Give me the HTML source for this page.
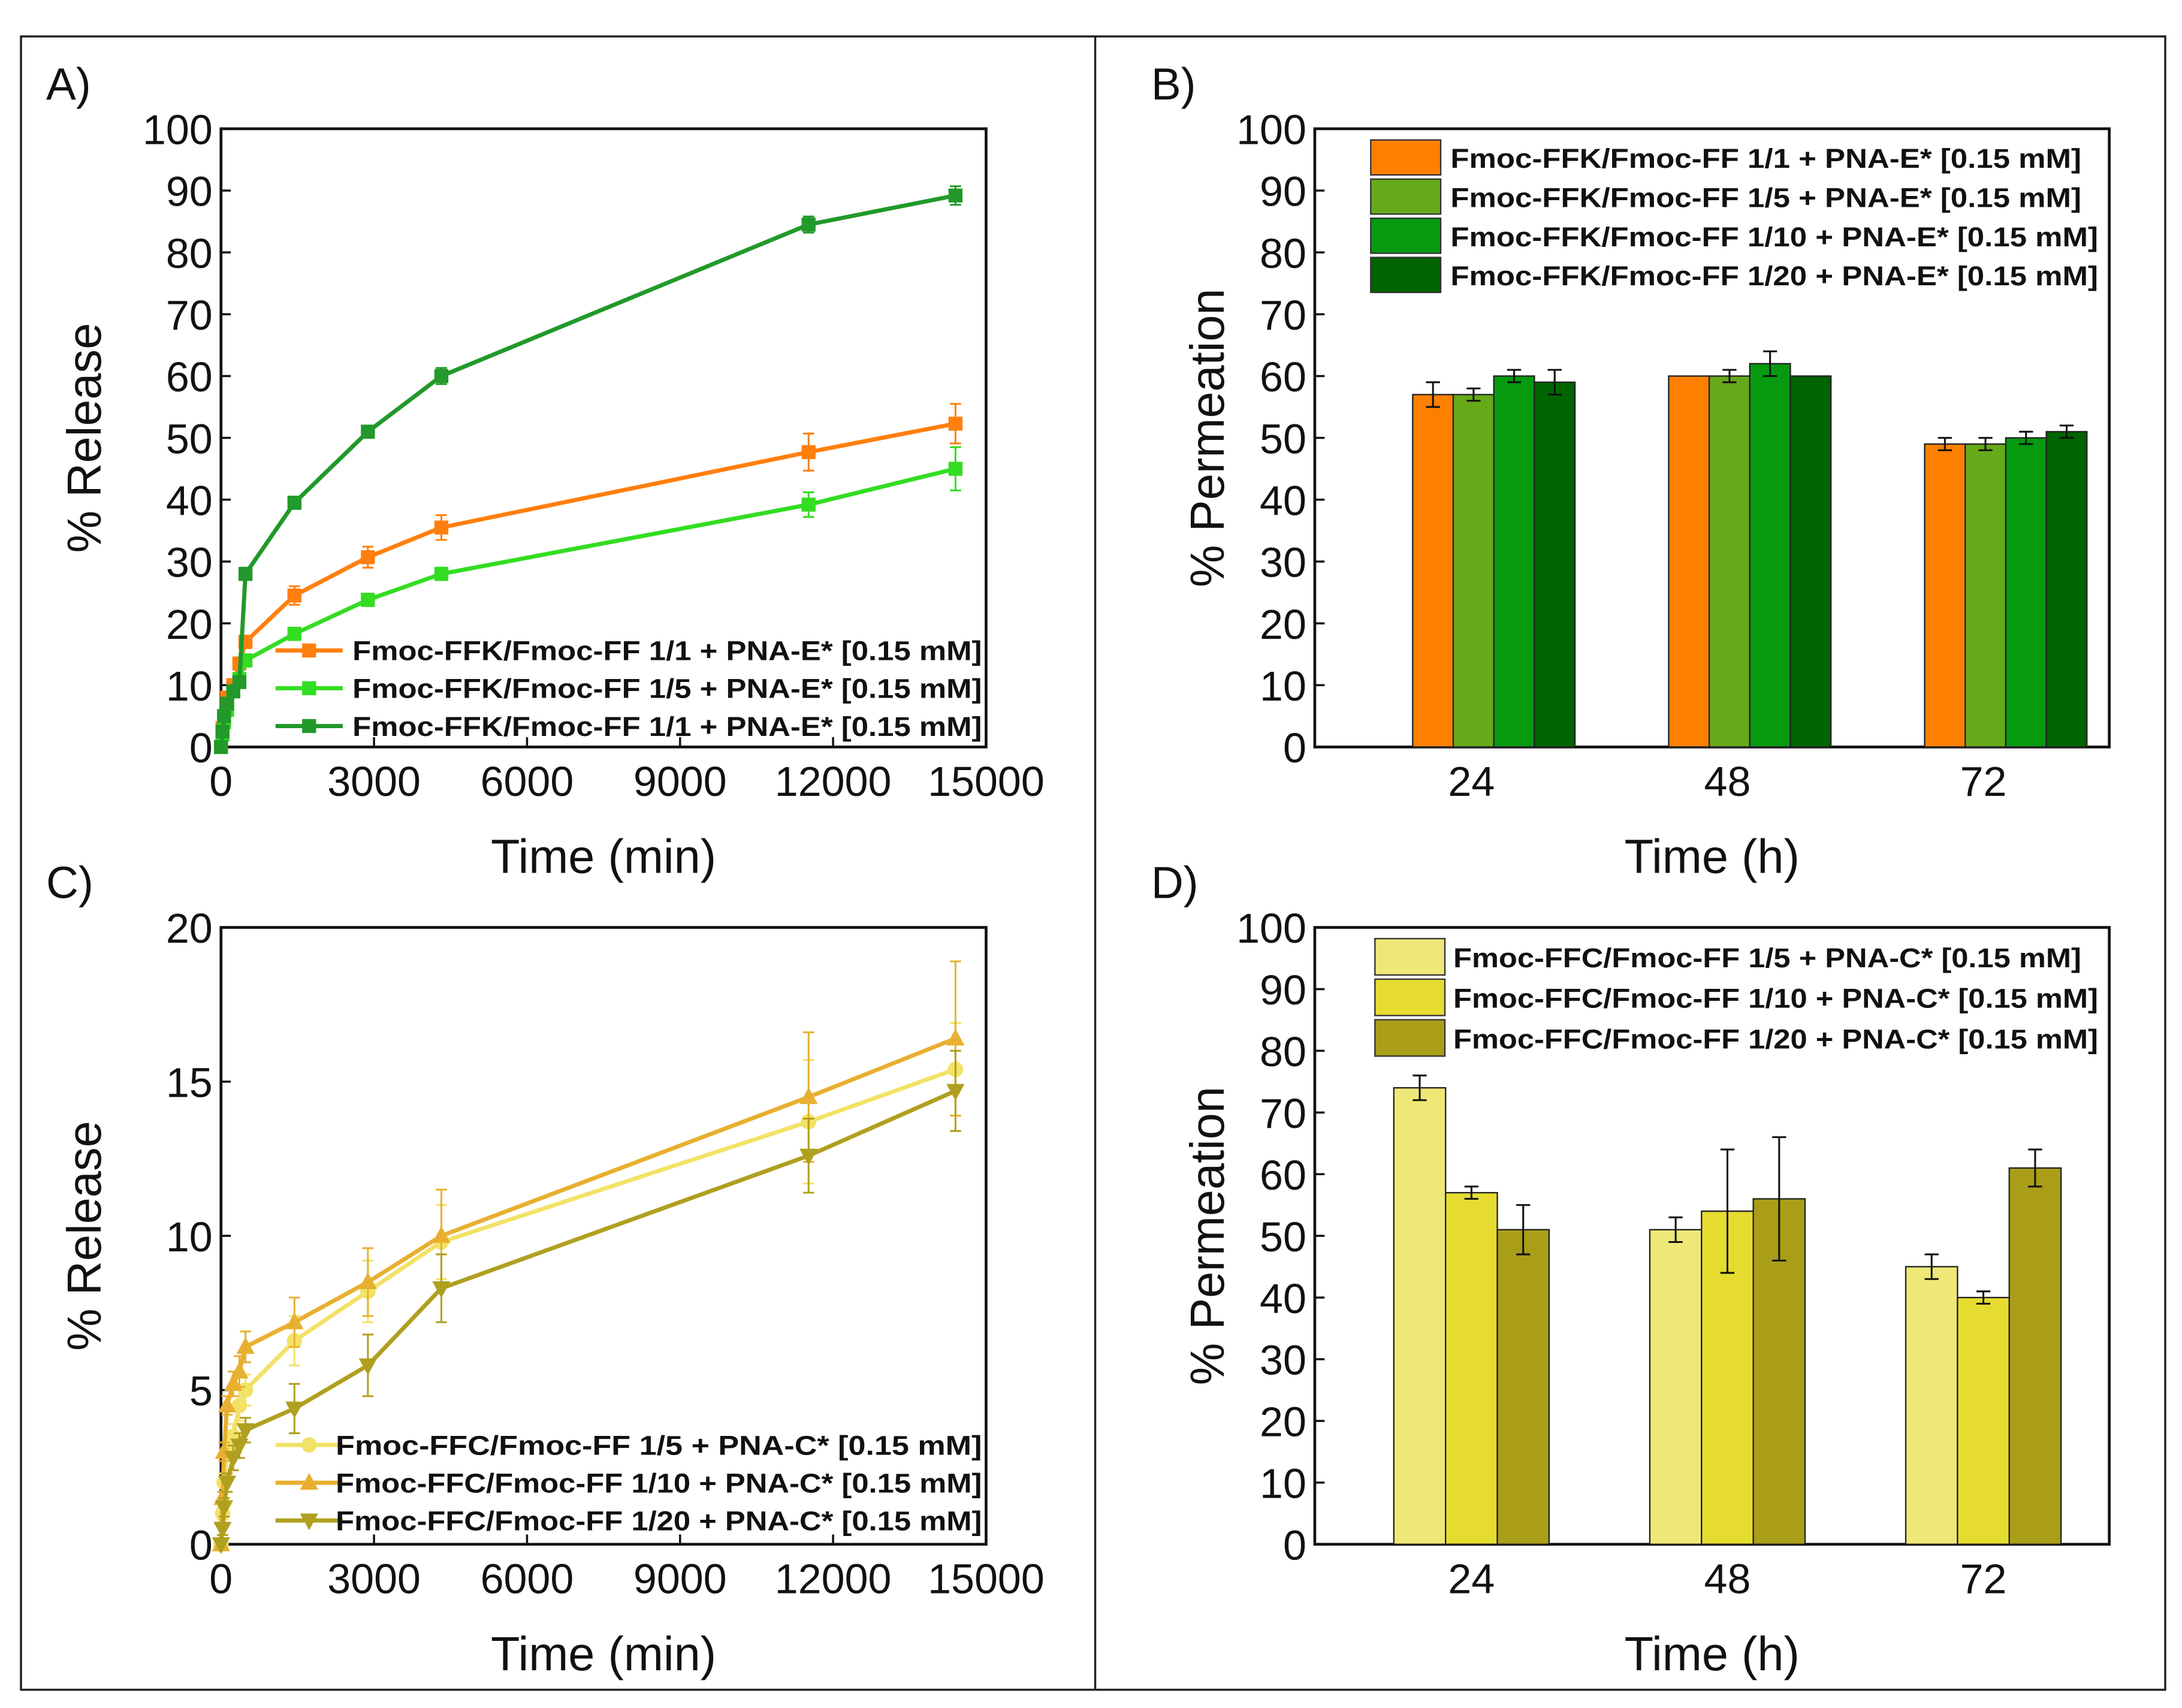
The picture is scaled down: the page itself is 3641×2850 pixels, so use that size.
<!DOCTYPE html>
<html><head><meta charset="utf-8"><style>
html,body{margin:0;padding:0;background:#fff;}
svg{display:block;}
text{font-family:"Liberation Sans",Arial,sans-serif;fill:#111;}
.tk{font-size:30px;}
.ttl{font-size:34px;}
.lg{font-size:19.5px;font-weight:bold;}
.pl{font-size:32px;}
</style></head><body>
<svg id="fig" width="3641" height="2850" viewBox="0 0 1560 1221" xmlns="http://www.w3.org/2000/svg">
<rect x="15" y="26" width="1533" height="1182" fill="none" stroke="#222" stroke-width="1.5"/>
<line x1="783" y1="26" x2="783" y2="1208" stroke="#222" stroke-width="1.5"/>
<text class="pl" x="33" y="71">A)</text>
<text class="pl" x="823" y="71">B)</text>
<text class="pl" x="33" y="642">C)</text>
<text class="pl" x="823" y="642">D)</text>
<g id="g"></g>
</svg>
<script>
// ---- Panel A data ----
const timesA = [0,30,60,120,240,360,480,1440,2880,4320,11520,14400];
const relA_11 = [0,3,5,8,10,13.5,17,24.5,30.7,35.5,47.7,52.3];
const relA_11err = [0,0.5,0.5,0.5,0.5,1,1,1.5,1.7,2,3,3.2];
const relA_15 = [0,2,4,6,9,11,14,18.3,23.8,28,39.2,45];
const relA_15err = [0,0.5,0.5,0.5,0.5,0.8,1,1,1,1,2,3.5];
const relA_11b = [0,2.5,5,7,9,10.5,28,39.5,51,60,84.5,89.2];
const relA_11berr = [0,0.5,0.5,0.5,0.5,0.8,1,1,1,1.3,1.3,1.5];
const labelsA = ["Fmoc-FFK/Fmoc-FF 1/1 + PNA-E* [0.15 mM]","Fmoc-FFK/Fmoc-FF 1/5 + PNA-E* [0.15 mM]","Fmoc-FFK/Fmoc-FF 1/1 + PNA-E* [0.15 mM]"];
// ---- Panel C data ----
const timesC = [0,30,60,120,240,360,480,1440,2880,4320,11520,14400];
const relC_5 = [0,1,2,3,3.5,4.5,5,6.6,8.2,9.8,13.7,15.4];
const relC_5err = [0,0.2,0.3,0.3,0.4,0.5,0.5,0.8,1,1.2,2,1.5];
const relC_10 = [0,1.5,3,4.5,5.2,5.6,6.4,7.2,8.5,10,14.5,16.4];
const relC_10err = [0,0.2,0.3,0.3,0.4,0.5,0.5,0.8,1.1,1.5,2.1,2.5];
const relC_20 = [0,0.5,1.2,2,2.8,3.2,3.7,4.4,5.8,8.3,12.6,14.7];
const relC_20err = [0,0.2,0.3,0.3,0.4,0.4,0.4,0.8,1,1.1,1.2,1.3];
const labelsC = ["Fmoc-FFC/Fmoc-FF 1/5 + PNA-C* [0.15 mM]","Fmoc-FFC/Fmoc-FF 1/10 + PNA-C* [0.15 mM]","Fmoc-FFC/Fmoc-FF 1/20 + PNA-C* [0.15 mM]"];
// ---- Panel B data ----
const catsB = ["24","48","72"];
const permB_1 = [57,60,49];  const permB_1err = [2,0,1];
const permB_5 = [57,60,49];  const permB_5err = [1,1,1];
const permB_10 = [60,62,50]; const permB_10err = [1,2,1];
const permB_20 = [59,60,51]; const permB_20err = [2,0,1];
const labelsB = ["Fmoc-FFK/Fmoc-FF 1/1 + PNA-E* [0.15 mM]","Fmoc-FFK/Fmoc-FF 1/5 + PNA-E* [0.15 mM]","Fmoc-FFK/Fmoc-FF 1/10 + PNA-E* [0.15 mM]","Fmoc-FFK/Fmoc-FF 1/20 + PNA-E* [0.15 mM]"];
// ---- Panel D data ----
const catsD = ["24","48","72"];
const permD_5 = [74,51,45];  const permD_5err = [2,2,2];
const permD_10 = [57,54,40]; const permD_10err = [1,10,1];
const permD_20 = [51,56,61]; const permD_20err = [4,10,3];
const labelsD = ["Fmoc-FFC/Fmoc-FF 1/5 + PNA-C* [0.15 mM]","Fmoc-FFC/Fmoc-FF 1/10 + PNA-C* [0.15 mM]","Fmoc-FFC/Fmoc-FF 1/20 + PNA-C* [0.15 mM]"];
const ticksX = [0,3000,6000,9000,12000,15000];

const NS="http://www.w3.org/2000/svg";
const G=document.getElementById('g');
function mk(tag,attrs,parent,txt){const e=document.createElementNS(NS,tag);for(const k in attrs)e.setAttribute(k,attrs[k]);if(txt!==undefined)e.textContent=txt;(parent||G).appendChild(e);return e;}

function frame(L,R,T,B,ymax,ystep,name,ytitle,xtitle,ytx){
  const y=v=>B-(v/ymax)*(B-T);
  const f=mk('rect',{x:L,y:T,width:R-L,height:B-T,fill:'none',stroke:'#111','stroke-width':2});
  
  
  for(let v=0;v<=ymax;v+=ystep){
    const t=mk('line',{x1:L,x2:L+7,y1:y(v),y2:y(v),stroke:'#111','stroke-width':1.5});
    
    
    const l=mk('text',{class:'tk',x:L-6,y:y(v)+11,'text-anchor':'end'},null,String(v));
    
    
  }
  const yt=mk('text',{class:'ttl','text-anchor':'middle',transform:`translate(${ytx},${(T+B)/2}) rotate(-90)`},null,ytitle);
  
  
  const xt=mk('text',{class:'ttl','text-anchor':'middle',x:(L+R)/2+(name.match(/[ac]/)?0:0),y:B+90},null,xtitle);
  
  
  return y;
}

function marker(shape,cx,cy,col,name){
  let e;
  if(shape==='sq') e=mk('rect',{x:cx-5,y:cy-5,width:10,height:10,fill:col});
  else if(shape==='ci') e=mk('circle',{cx:cx,cy:cy,r:5.5,fill:col});
  else if(shape==='up') e=mk('polygon',{points:`${cx},${cy-7} ${cx-6.5},${cy+5} ${cx+6.5},${cy+5}`,fill:col});
  else e=mk('polygon',{points:`${cx},${cy+7} ${cx-6.5},${cy-5} ${cx+6.5},${cy-5}`,fill:col});
  
  
}

function linePanel(L,R,T,B,ymax,ystep,name,times,series,labels,legY,legTx){
  const y=frame(L,R,T,B,ymax,ystep,name,'% Release','Time (min)',72);
  const x=v=>L+(v/15000)*(R-L);
  ticksX.forEach(v=>{
    const t=mk('line',{x1:x(v),x2:x(v),y1:B,y2:B-7,stroke:'#111','stroke-width':1.5});
    
    
    const l=mk('text',{class:'tk',x:x(v),y:B+35,'text-anchor':'middle'},null,String(v));
    
    
  });
  series.forEach((s,si)=>{
    const pts=times.map((t,i)=>x(t)+','+y(s.v[i])).join(' ');
    const pl=mk('polyline',{points:pts,fill:'none',stroke:s.c,'stroke-width':3});
    
    
    times.forEach((t,i)=>{
      const e=s.e[i];
      if(e>0){
        const eb=mk('path',{d:`M${x(t)},${y(s.v[i]-e)}V${y(s.v[i]+e)}M${x(t)-4},${y(s.v[i]-e)}h8M${x(t)-4},${y(s.v[i]+e)}h8`,stroke:s.c,'stroke-width':1.3,fill:'none'});
        
        
      }
      marker(s.m,x(t),y(s.v[i]),s.c,name+'-point');
    });
  });
  labels.forEach((lab,i)=>{
    const yy=legY+i*27;
    const ln=mk('line',{x1:197,x2:245,y1:yy,y2:yy,stroke:series[i].c,'stroke-width':3});
    
    
    marker(series[i].m,221,yy,series[i].c,name+'-legend-marker');
    const tx=mk('text',{class:'lg',x:legTx,y:yy+7,textLength:702-legTx,lengthAdjust:'spacingAndGlyphs'},null,lab);
    
    
  });
}

function barPanel(T,B,name,cats,series,labels,bw,legY,legStep,boxL,boxW,txL){
  const L=940,R=1508;
  const y=frame(L,R,T,B,100,10,name,'% Permeation','Time (h)',875);
  const cx=[1052,1235,1418];
  const n=series.length;
  cats.forEach((c,ci)=>{
    const t=mk('line',{x1:cx[ci],x2:cx[ci],y1:B,y2:B-7,stroke:'#111','stroke-width':1.5});
    
    
    const l=mk('text',{class:'tk',x:cx[ci],y:B+35,'text-anchor':'middle'},null,c);
    
    
    const start=cx[ci]+16-(n*bw)/2+ (n===3?-16:0);
    series.forEach((s,si)=>{
      const x0=start+si*bw;
      const r=mk('rect',{x:x0,y:y(s.v[ci]),width:bw,height:B-y(s.v[ci]),fill:s.c,stroke:'#222','stroke-width':1});
      
      
      const e=s.e[ci];
      if(e>0){
        const m=x0+bw/2;
        const eb=mk('path',{d:`M${m},${y(s.v[ci]-e)}V${y(s.v[ci]+e)}M${m-5},${y(s.v[ci]-e)}h10M${m-5},${y(s.v[ci]+e)}h10`,stroke:'#111','stroke-width':1.3,fill:'none'});
        
        
      }
    });
  });
  labels.forEach((lab,i)=>{
    const yy=legY+i*legStep;
    const b=mk('rect',{x:boxL,y:yy,width:boxW,height:legStep-3,fill:series[i].c,stroke:'#333','stroke-width':1});
    
    
    const tx=mk('text',{class:'lg',x:txL,y:yy+legStep/2+6,textLength:(lab.includes('1/10')||lab.includes('1/20')?1500:1488)-txL,lengthAdjust:'spacingAndGlyphs'},null,lab);
    
    
  });
}

linePanel(158,705,92,534,100,10,'panel-a',timesA,[
  {v:relA_11,e:relA_11err,c:'#ff7f0e',m:'sq'},
  {v:relA_15,e:relA_15err,c:'#33dd22',m:'sq'},
  {v:relA_11b,e:relA_11berr,c:'#22992a',m:'sq'}],labels=labelsA,465,252);
barPanel(92,534,'panel-b',catsB,[
  {v:permB_1,e:permB_1err,c:'#ff8000'},
  {v:permB_5,e:permB_5err,c:'#66aa1a'},
  {v:permB_10,e:permB_10err,c:'#059a10'},
  {v:permB_20,e:permB_20err,c:'#006400'}],labelsB,29,100,28,980,50,1037);
linePanel(158,705,663,1104,20,5,'panel-c',timesC,[
  {v:relC_5,e:relC_5err,c:'#f2e266',m:'ci'},
  {v:relC_10,e:relC_10err,c:'#e8b030',m:'up'},
  {v:relC_20,e:relC_20err,c:'#b0a020',m:'dn'}],labelsC,1033,240);
barPanel(663,1104,'panel-d',catsD,[
  {v:permD_5,e:permD_5err,c:'#ede877'},
  {v:permD_10,e:permD_10err,c:'#e6dc30'},
  {v:permD_20,e:permD_20err,c:'#aa9e18'}],labelsD,37,671,29,983,50,1039);
</script>
</body></html>
